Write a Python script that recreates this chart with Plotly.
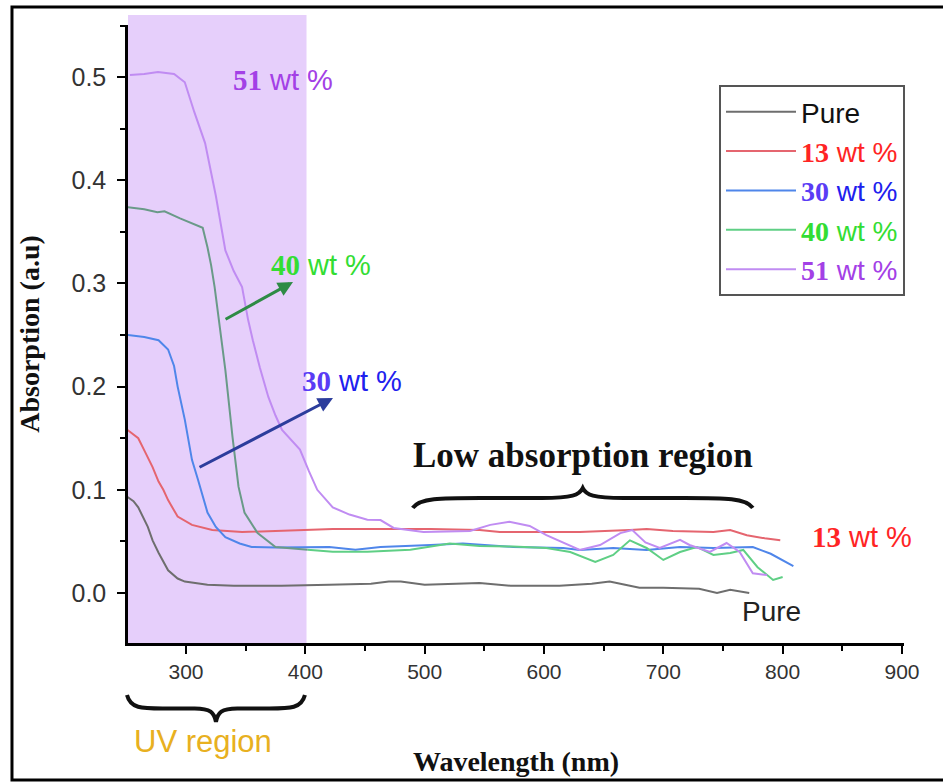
import plotly.graph_objects as go

# ---- UV-Vis absorption spectra (wavelength in nm, absorption in a.u.) ----
pure_wl = [251, 256, 260, 265, 268, 272, 277, 285, 293, 299, 310, 318, 340, 380, 420, 455, 470, 480,
           500, 530, 546, 572, 613, 640, 655, 668, 680, 700, 730, 745, 756, 772]
pure_abs = [0.093, 0.089, 0.083, 0.072, 0.064, 0.051, 0.039, 0.022, 0.014, 0.011, 0.009, 0.008, 0.007,
            0.007, 0.008, 0.009, 0.011, 0.011, 0.008, 0.009, 0.0097, 0.007, 0.007, 0.009, 0.011, 0.008,
            0.005, 0.005, 0.004, 0.000, 0.003, 0.000]

wt13_wl = [251, 256, 260, 266, 272, 277, 281, 285, 293, 305, 322, 347, 380, 423, 460, 505, 546, 563,
           600, 630, 672, 686, 708, 742, 756, 770, 785, 798]
wt13_abs = [0.158, 0.154, 0.150, 0.136, 0.122, 0.108, 0.100, 0.090, 0.074, 0.066, 0.061, 0.059, 0.060,
            0.062, 0.062, 0.062, 0.061, 0.059, 0.059, 0.059, 0.061, 0.062, 0.060, 0.059, 0.061, 0.056,
            0.053, 0.051]

wt30_wl = [251, 265, 277, 285, 290, 293, 299, 305, 310, 318, 325, 333, 345, 355, 375, 420, 442, 463,
           505, 532, 574, 616, 630, 658, 686, 714, 742, 775, 790, 809]
wt30_abs = [0.250, 0.248, 0.245, 0.236, 0.220, 0.200, 0.168, 0.129, 0.110, 0.078, 0.064, 0.054, 0.048,
            0.0446, 0.044, 0.0446, 0.042, 0.0446, 0.0465, 0.048, 0.0446, 0.0436, 0.0417, 0.0436, 0.0417,
            0.0446, 0.0436, 0.0446, 0.038, 0.026]

wt40_wl = [251, 265, 276, 282, 295, 305, 314, 318, 321, 324, 328.5, 333, 339, 344, 349, 360, 375, 402,
           423, 452, 488, 521, 546, 574, 602, 622, 643, 658, 672, 686, 700, 714, 728, 742, 756, 767,
           779, 792, 800]
wt40_abs = [0.374, 0.372, 0.369, 0.370, 0.363, 0.3585, 0.354, 0.335, 0.318, 0.2965, 0.258, 0.216, 0.151,
            0.103, 0.078, 0.058, 0.0446, 0.042, 0.040, 0.040, 0.042, 0.048, 0.0455, 0.045, 0.0436,
            0.0397, 0.030, 0.0368, 0.051, 0.0436, 0.032, 0.0397, 0.0446, 0.0368, 0.0388, 0.0417, 0.025,
            0.0126, 0.0155]

wt51_wl = [253, 265, 276.5, 290, 299, 307, 316, 325, 333, 340, 347, 352, 356, 362, 369, 375, 380.5, 388,
           395.5, 403, 410, 423, 437, 452, 463, 474, 499, 538, 555, 571, 588, 602, 630, 647, 664, 674,
           685, 697, 714, 722, 739, 753, 764, 775, 787]
wt51_abs = [0.502, 0.503, 0.505, 0.503, 0.495, 0.466, 0.436, 0.385, 0.332, 0.312, 0.2965, 0.265, 0.245,
            0.218, 0.19, 0.172, 0.158, 0.148, 0.139, 0.118, 0.100, 0.083, 0.076, 0.071, 0.0707, 0.063,
            0.059, 0.060, 0.066, 0.069, 0.065, 0.056, 0.0417, 0.0465, 0.058, 0.061, 0.049, 0.0436,
            0.0514, 0.0465, 0.0397, 0.0484, 0.0397, 0.019, 0.0174]

uv_band = [251, 401]          # shaded UV window (nm)
x_range = [251.4, 901.7]
y_range = [-0.0485, 0.5505]

SERIF = "font-family:Liberation Serif;font-weight:bold"


def label(num, color, num_color=None):
    nc = num_color or color
    return (f"<span style='color:{nc};{SERIF}'>{num}</span>"
            f"<span style='color:{color}'> wt %</span>")


fig = go.Figure()

# UV part of the 40 wt % curve is drawn in a muted tone under the shading
cut = wt40_wl.index(402) + 1

traces = [
    ("Pure", pure_wl, pure_abs, "#6e6e6e", "<span style='color:#111'>Pure</span>"),
    ("13", wt13_wl, wt13_abs, "#e5656f", label("13", "#ff2424")),
    ("30", wt30_wl, wt30_abs, "#4f86ea", label("30", "#2020ee", "#5a3cf5")),
    ("40", wt40_wl[cut - 1:], wt40_abs[cut - 1:], "#5fcf85", label("40", "#33dd33")),
    ("51", wt51_wl, wt51_abs, "#c08cf2", label("51", "#a340e6")),
]

for key, xs, ys, col, name in traces:
    fig.add_trace(go.Scatter(x=xs, y=ys, mode="lines", name=name, legendgroup=key,
                             line=dict(color=col, width=2)))

fig.add_trace(go.Scatter(x=wt40_wl[:cut], y=wt40_abs[:cut], mode="lines", showlegend=False,
                         legendgroup="40", line=dict(color="#6a9a88", width=2)))


def brace(x0, x1, y0, h):
    """Curly brace path between x0 and x1, tips at y0, point at y0 + h."""
    w = x1 - x0
    xm = (x0 + x1) / 2
    ym = y0 + 0.5 * h
    return (f"M{x0},{y0} C{x0 + 0.02 * w},{ym} {x0 + 0.08 * w},{ym} {x0 + 0.2 * w},{ym} "
            f"L{xm - 0.12 * w},{ym} C{xm - 0.03 * w},{ym} {xm - 0.01 * w},{y0 + 0.65 * h} {xm},{y0 + h} "
            f"C{xm + 0.01 * w},{y0 + 0.65 * h} {xm + 0.03 * w},{ym} {xm + 0.12 * w},{ym} "
            f"L{x1 - 0.2 * w},{ym} C{x1 - 0.08 * w},{ym} {x1 - 0.02 * w},{ym} {x1},{y0}")


shapes = [
    # shaded UV window
    dict(type="rect", xref="x", yref="paper", x0=uv_band[0], x1=uv_band[1], y0=0, y1=1.016,
         fillcolor="#e6cffb", line=dict(width=0), layer="below"),
    # outer frame
    dict(type="rect", xref="paper", yref="paper", x0=-0.1495, x1=1.07, y0=-0.2217, y1=1.0291,
         line=dict(color="black", width=3), fillcolor="rgba(0,0,0,0)"),
    # brace over the low absorption region
    dict(type="path", xref="x", yref="y", path=brace(490, 775, 0.0824, 0.0193),
         line=dict(color="#111", width=4)),
    # brace under the UV window
    dict(type="path", xref="paper", yref="paper", path=brace(-0.0013, 0.228, -0.0841, -0.0437),
         line=dict(color="#111", width=4)),
]

TXT = dict(family="Liberation Sans, Arial", size=29)

annotations = [
    dict(x=381, y=0.497, xref="x", yref="y", showarrow=False, text=label("51", "#a340e6"),
         font=TXT),
    dict(x=413, y=0.318, xref="x", yref="y", showarrow=False, text=label("40", "#33dd33"),
         font=TXT),
    dict(x=439, y=0.2054, xref="x", yref="y", showarrow=False,
         text=label("30", "#2020ee", "#5a3cf5"), font=TXT),
    dict(x=866.5, y=0.0543, xref="x", yref="y", showarrow=False, text=label("13", "#ff2424"),
         font=TXT),
    dict(x=791, y=-0.0184, xref="x", yref="y", showarrow=False, text="Pure",
         font=dict(family="Liberation Sans, Arial", size=28, color="#222")),
    dict(x=632.7, y=0.1337, xref="x", yref="y", showarrow=False, text="<b>Low absorption region</b>",
         font=dict(family="Liberation Serif, Times New Roman", size=35, color="#111")),
    dict(x=0.0966, y=-0.160, xref="paper", yref="paper", xanchor="center", yanchor="middle",
         showarrow=False, text="UV region",
         font=dict(family="Liberation Sans, Arial", size=31, color="#e8b020")),
    # arrows pointing from the curves to their labels
    dict(x=389.7, y=0.3014, ax=331.9, ay=0.2645, xref="x", yref="y", axref="x", ayref="y",
         showarrow=True, arrowhead=2, arrowsize=1, arrowwidth=3, arrowcolor="#2e8b45", text=""),
    dict(x=423.2, y=0.189, ax=310.1, ay=0.1211, xref="x", yref="y", axref="x", ayref="y",
         showarrow=True, arrowhead=2, arrowsize=1, arrowwidth=3, arrowcolor="#2c3d9c", text=""),
]

axis_common = dict(showline=True, linecolor="black", linewidth=2.5, showgrid=False, zeroline=False,
                   ticks="outside", ticklen=8, tickwidth=2, tickcolor="black", mirror=False,
                   automargin=False)

fig.update_layout(
    width=943, height=782, autosize=False,
    margin=dict(l=128, r=39, t=25, b=139),
    paper_bgcolor="white", plot_bgcolor="rgba(0,0,0,0)",
    shapes=shapes, annotations=annotations,
    xaxis=dict(range=x_range, dtick=100, tick0=0, **axis_common,
               minor=dict(dtick=50, tick0=0, ticks="outside", ticklen=5, tickwidth=2, tickcolor="black"),
               tickfont=dict(family="Liberation Sans, Arial", size=21, color="#333"),
               title=dict(text="<b>Wavelength (nm)</b>", standoff=70,
                          font=dict(family="Liberation Serif, Times New Roman", size=28, color="#111"))),
    yaxis=dict(range=y_range, dtick=0.1, tick0=0, tickformat=".1f", **axis_common,
               minor=dict(dtick=0.05, tick0=0, ticks="outside", ticklen=5, tickwidth=2, tickcolor="black"),
               tickfont=dict(family="Liberation Sans, Arial", size=25, color="#333"),
               ticklabelstandoff=6,
               title=dict(text="<b>Absorption (a.u)</b>", standoff=24,
                          font=dict(family="Liberation Serif, Times New Roman", size=28, color="#111"))),
    legend=dict(x=0.7616, y=0.903, xanchor="left", yanchor="top", bgcolor="white",
                bordercolor="#555", borderwidth=2, font=dict(family="Liberation Sans, Arial", size=28),
                tracegroupgap=0, itemwidth=70, entrywidth=140, entrywidthmode="pixels"),
    showlegend=True,
)

fig.write_html("out.html")
